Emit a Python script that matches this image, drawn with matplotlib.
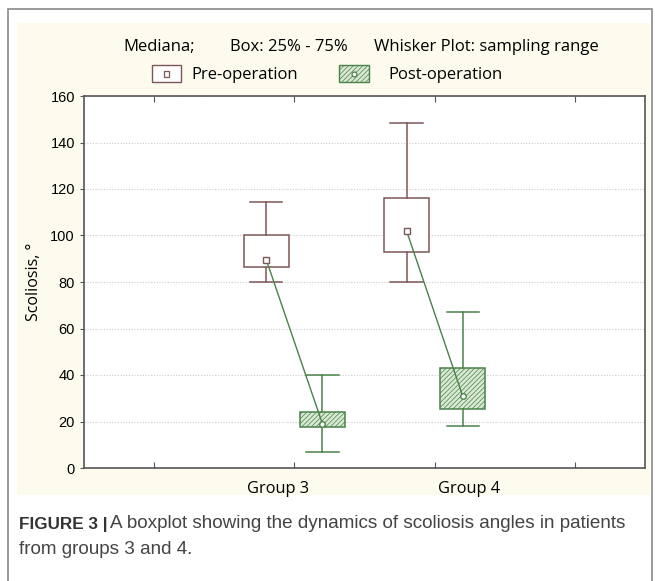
import numpy as np
import matplotlib
matplotlib.use('Agg')
import matplotlib.pyplot as plt
from matplotlib.patches import Rectangle

# data (scoliosis angle, degrees)
groups = ['Group 3', 'Group 4']
group_pos = [2, 3]

pre_min = [80, 80]
pre_q1 = [86.5, 93]
pre_med = [89.5, 102]
pre_q3 = [100, 116]
pre_max = [114.5, 148.5]

post_min = [7, 18]
post_q1 = [17.5, 25.5]
post_med = [19, 31]
post_q3 = [24, 43]
post_max = [40, 67]

pre_col = '#7d5656'
post_col = '#4a814a'
post_fill = '#d8e8d2'
cream = '#fdfaee'

plt.rcParams['hatch.linewidth'] = 0.5

fig = plt.figure(figsize=(6.55, 5.81), dpi=100)

# outer frame + cream panel
fig.patches.append(Rectangle((8/655, -0.05), 644/655, 1 - 9/581 + 0.05, transform=fig.transFigure,
                             fill=False, ec='#8a8a8a', lw=1.2, zorder=-2))
fig.patches.append(Rectangle((17/655, 1 - 495/581), 633/655, (495 - 23)/581, transform=fig.transFigure,
                             fc=cream, ec='none', zorder=-1))

ax = fig.add_axes([84/655, 1 - 468/581, 561/655, 372/581])
ax.set_facecolor('white')

def stats(lo, q1, med, q3, hi):
    return [dict(whislo=a, q1=b, med=c, q3=d, whishi=e) for a, b, c, d, e in zip(lo, q1, med, q3, hi)]

off = 0.2
pre_x = [p - off for p in group_pos]
post_x = [p + off for p in group_pos]

ax.bxp(stats(pre_min, pre_q1, pre_med, pre_q3, pre_max), positions=pre_x, widths=0.32,
       showfliers=False, patch_artist=True, capwidths=0.23,
       boxprops=dict(facecolor='white', edgecolor=pre_col, lw=1.1),
       whiskerprops=dict(color=pre_col, lw=1.1), capprops=dict(color=pre_col, lw=1.1),
       medianprops=dict(lw=0))
ax.bxp(stats(post_min, post_q1, post_med, post_q3, post_max), positions=post_x, widths=0.32,
       showfliers=False, patch_artist=True, capwidths=0.23,
       boxprops=dict(facecolor=post_fill, edgecolor=post_col, lw=1.1, hatch='///////'),
       whiskerprops=dict(color=post_col, lw=1.1), capprops=dict(color=post_col, lw=1.1),
       medianprops=dict(lw=0))

# median connection lines
for i in range(len(groups)):
    ax.plot([pre_x[i], post_x[i]], [pre_med[i], post_med[i]], color=post_col, lw=1.0, zorder=4)
ax.plot(pre_x, pre_med, ls='none', marker='s', ms=4.5, mfc='white', mec=pre_col, mew=1.0, zorder=5)
ax.plot(post_x, post_med, ls='none', marker='o', ms=4, mfc='white', mec=post_col, mew=1.0, zorder=5)

ax.set_xlim(0.5, 4.5)
ax.set_ylim(0, 160)
ax.set_yticks(np.arange(0, 161, 20))
ax.set_xticks([1, 2, 3, 4])
ax.set_xticklabels([])
# group labels sit a little off their ticks in the original
label_shift = [-12, 25]   # points
for pos, name, dx in zip(group_pos, groups, label_shift):
    ax.annotate(name, xy=(pos, 0), xycoords=('data', 'axes fraction'),
                xytext=(dx, -15), textcoords='offset points', ha='center', va='center',
                fontsize=11.8, family='Open Sans', annotation_clip=False)

ax.yaxis.grid(True, ls=(0, (1, 1.5)), color='#cccccc', lw=0.8)
ax.set_axisbelow(True)
ax.tick_params(axis='x', direction='in', length=4, top=True, color='#555555')
ax.tick_params(axis='y', direction='out', length=3, color='#555555', labelsize=10.5)
for lab in ax.get_yticklabels():
    lab.set_family('Liberation Sans')
for s in ax.spines.values():
    s.set_color('#555555')
    s.set_linewidth(1.2)
ax.set_ylabel('Scoliosis, \u00b0', fontsize=11.5, family='Open Sans', labelpad=6)

# header / legend
hfs = 12
fig.text(123/655, 1 - 47/581, 'Mediana;', fontsize=hfs, family='Open Sans', va='center')
fig.text(230/655, 1 - 47/581, 'Box: 25% - 75%', fontsize=hfs, family='Open Sans', va='center')
fig.text(374/655, 1 - 47/581, 'Whisker Plot: sampling range', fontsize=hfs, family='Open Sans', va='center')

fig.patches.append(Rectangle((152/655, 1 - 82/581), 29/655, 17/581, transform=fig.transFigure,
                             fc='white', ec=pre_col, lw=1.0))
fig.patches.append(Rectangle((163.5/655, 1 - 76.5/581), 5.5/655, 5.5/581, transform=fig.transFigure,
                             fc='white', ec=pre_col, lw=0.9))
fig.text(191/655, 1 - 75/581, 'Pre-operation', fontsize=hfs, family='Open Sans', va='center')
fig.patches.append(Rectangle((339/655, 1 - 82/581), 30/655, 17/581, transform=fig.transFigure,
                             fc=post_fill, ec=post_col, lw=1.0, hatch='///////'))
fig.lines.append(plt.Line2D([354/655], [1 - 73.5/581], transform=fig.transFigure, ls='none',
                            marker='o', ms=3.5, mfc='white', mec=post_col, mew=0.9))
fig.text(388/655, 1 - 75/581, 'Post-operation', fontsize=hfs, family='Open Sans', va='center')

# caption
cap_font = 'Liberation Sans'
fig.text(19/655, 1 - 524/581, 'FIGURE 3 |', fontsize=12.3, family=cap_font,
         fontweight='bold', color='#333333', va='center')
fig.text(110/655, 1 - 524/581, 'A boxplot showing the dynamics of scoliosis angles in patients',
         fontsize=13.6, family=cap_font, color='#444444', va='center')
fig.text(19/655, 1 - 549/581, 'from groups 3 and 4.', fontsize=13.6, family=cap_font,
         color='#444444', va='center')

fig.savefig('out.png', dpi=100)
